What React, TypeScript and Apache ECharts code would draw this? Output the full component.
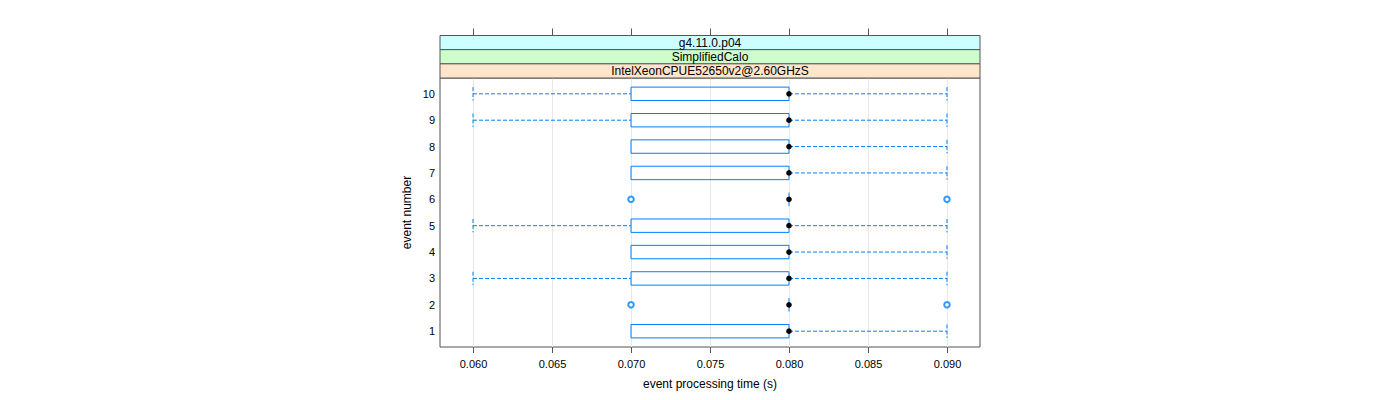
import React, { useEffect, useRef } from "react";
import * as echarts from "echarts";

const events = [1, 2, 3, 4, 5, 6, 7, 8, 9, 10];
const lowerWhisker = [0.07, 0.08, 0.06, 0.07, 0.06, 0.08, 0.07, 0.07, 0.06, 0.06];
const q1 = [0.07, 0.08, 0.07, 0.07, 0.07, 0.08, 0.07, 0.07, 0.07, 0.07];
const median = [0.08, 0.08, 0.08, 0.08, 0.08, 0.08, 0.08, 0.08, 0.08, 0.08];
const q3 = [0.08, 0.08, 0.08, 0.08, 0.08, 0.08, 0.08, 0.08, 0.08, 0.08];
const upperWhisker = [0.09, 0.08, 0.09, 0.09, 0.09, 0.08, 0.09, 0.09, 0.09, 0.09];
const outliers: [number, number][] = [
  [0.07, 2], [0.09, 2], [0.07, 6], [0.09, 6],
];
const xTicks = [0.06, 0.065, 0.07, 0.075, 0.08, 0.085, 0.09];
const stripLabels = ["g4.11.0.p04", "SimplifiedCalo", "IntelXeonCPUE52650v2@2.60GHzS"];
const stripColors = ["#CCFFFF", "#CCFFCC", "#FFE5CC"];

const BLUE = "#0080ff";
const FONT = "Liberation Sans";

export default function App() {
  const ref = useRef<HTMLDivElement>(null);
  useEffect(() => {
    const chart = echarts.init(ref.current!, undefined, { renderer: "svg" });
    const gridLeft = 440, gridRight = 980, gridTop = 78, gridBottom = 347;
    const stripTop = 35.5, stripH = 14.17;
    const boxData = events.map((e, i) => [e, lowerWhisker[i], q1[i], median[i], q3[i], upperWhisker[i]]);
    const halfH = 6.7;
    chart.setOption({
      animation: false,
      grid: {
        left: gridLeft, right: 1400 - gridRight, top: gridTop, bottom: 400 - gridBottom,
        show: true, borderColor: "#555", borderWidth: 1, backgroundColor: "transparent",
      },
      xAxis: [
        {
          type: "value", min: 0.05791, max: 0.09209,
          axisLine: { show: false },
          axisTick: { show: false },
          axisLabel: { show: false },
          splitLine: { show: false },
        },
      ],
      yAxis: {
        type: "value", min: 0.4, max: 10.6,
        axisLine: { show: false }, axisTick: { show: false },
        axisLabel: { show: false }, splitLine: { show: false },
        name: "event number", nameLocation: "middle", nameGap: 27,
        nameTextStyle: { fontFamily: FONT, fontSize: 12, color: "#000" },
      },
      graphic: [
        ...stripLabels.map((t, i) => ({
          type: "rect", silent: true,
          shape: { x: gridLeft, y: stripTop + i * stripH, width: gridRight - gridLeft, height: stripH },
          style: { fill: stripColors[i], stroke: "#555", lineWidth: 1 },
          z: 10,
        })),
        ...stripLabels.map((t, i) => ({
          type: "text", silent: true,
          x: (gridLeft + gridRight) / 2, y: stripTop + i * stripH + stripH / 2 + 0.5,
          style: { text: t, fontFamily: FONT, fontSize: 12, fill: "#000", align: "center", verticalAlign: "middle" },
          z: 11,
        })),
        {
          type: "text", silent: true,
          x: (gridLeft + gridRight) / 2, y: 384,
          style: { text: "event processing time (s)", fontFamily: FONT, fontSize: 12, fill: "#000", align: "center", verticalAlign: "middle" },
        },
      ],
      series: [
        {
          type: "custom",
          renderItem: (params: any, api: any) => {
            const children: any[] = [];
            xTicks.forEach((t) => {
              const x = Math.round(api.coord([t, 1])[0]) + 0.5;
              children.push({ type: "line", shape: { x1: x, y1: gridTop, x2: x, y2: gridBottom }, style: { stroke: "#e8e8e8", lineWidth: 1 }, z2: 0 });
              children.push({ type: "line", shape: { x1: x, y1: gridBottom, x2: x, y2: gridBottom + 6 }, style: { stroke: "#555", lineWidth: 1 } });
              children.push({ type: "line", shape: { x1: x, y1: stripTop - 7, x2: x, y2: stripTop }, style: { stroke: "#555", lineWidth: 1 } });
              children.push({ type: "text", style: { x: x, y: gridBottom + 17, text: t.toFixed(3), fontFamily: FONT, fontSize: 11, fill: "#000", align: "center", verticalAlign: "middle" } });
            });
            events.forEach((e) => {
              const y = api.coord([0.06, e])[1];
              children.push({ type: "text", style: { x: 435, y: y, text: String(e), fontFamily: FONT, fontSize: 11, fill: "#000", align: "right", verticalAlign: "middle" } });
            });
            return { type: "group", children };
          },
          data: [[0]],
          silent: true,
          z: 1,
        },
        {
          type: "custom",
          data: boxData,
          encode: { x: [1, 2, 3, 4, 5], y: 0 },
          renderItem: (params: any, api: any) => {
            const e = api.value(0);
            const [xLo, y] = api.coord([api.value(1), e]);
            const xQ1 = api.coord([api.value(2), e])[0];
            const xMed = api.coord([api.value(3), e])[0];
            const xQ3 = api.coord([api.value(4), e])[0];
            const xHi = api.coord([api.value(5), e])[0];
            const dash = { stroke: BLUE, lineWidth: 1, lineDash: [4, 2] };
            const children: any[] = [];
            if (xLo < xQ1) {
              children.push({ type: "line", shape: { x1: xLo, y1: y, x2: xQ1, y2: y }, style: dash });
              children.push({ type: "line", shape: { x1: xLo, y1: y - halfH, x2: xLo, y2: y + halfH }, style: dash });
            }
            if (xHi > xQ3) {
              children.push({ type: "line", shape: { x1: xQ3, y1: y, x2: xHi, y2: y }, style: dash });
              children.push({ type: "line", shape: { x1: xHi, y1: y - halfH, x2: xHi, y2: y + halfH }, style: dash });
            }
            if (xQ3 - xQ1 > 0.5) {
              children.push({ type: "rect", shape: { x: xQ1, y: y - halfH, width: xQ3 - xQ1, height: 2 * halfH }, style: { fill: "transparent", stroke: BLUE, lineWidth: 1 } });
            } else {
              children.push({ type: "line", shape: { x1: xQ1, y1: y - halfH, x2: xQ1, y2: y + halfH }, style: { stroke: BLUE, lineWidth: 1 } });
            }
            children.push({ type: "circle", shape: { cx: xMed, cy: y, r: 2.8 }, style: { fill: "#000", stroke: null } });
            return { type: "group", children };
          },
          silent: true,
          z: 3,
        },
        {
          type: "scatter",
          data: outliers,
          symbol: "circle",
          symbolSize: 5.5,
          itemStyle: { color: "#fff", borderColor: BLUE, borderWidth: 2 },
          silent: true,
          z: 4,
        },
      ],
    });
    return () => chart.dispose();
  }, []);
  return <div ref={ref} style={{ width: 1400, height: 400, marginLeft: -8, marginTop: -8 }} />;
}
